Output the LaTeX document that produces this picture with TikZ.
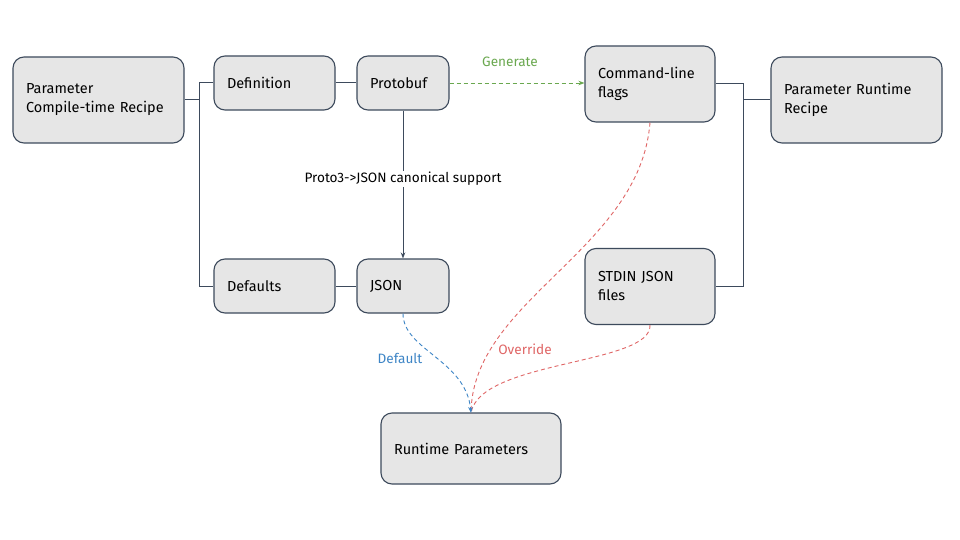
\documentclass[tikz,border=0pt]{standalone}
\usepackage{fontspec}
\setmainfont{Fira Sans}
\usetikzlibrary{arrows.meta}
\definecolor{boxfill}{HTML}{E6E6E6}
\definecolor{boxline}{HTML}{3D4A5C}
\definecolor{gen}{HTML}{6AA84F}
\definecolor{ovr}{HTML}{E06666}
\definecolor{dft}{HTML}{3D85C6}
\tikzset{
  box/.style={draw=boxline, fill=boxfill, line width=1.1pt, rounded corners=11pt,
    align=left, inner xsep=13pt, font=\fontsize{14.5}{19}\selectfont},
  link/.style={draw=boxline, line width=1pt},
  tip/.style={-{Stealth[length=6pt,width=4.5pt]}},
  dsh/.style={dash pattern=on 4pt off 3pt, line width=0.9pt},
  lbl/.style={font=\fontsize{13.6}{15}\selectfont}
}
\begin{document}
\begin{tikzpicture}[x=1pt,y=-1pt]
\useasboundingbox (0,0) rectangle (960,540);
\fill[white] (0,0) rectangle (960,540);
\node[box, minimum width=171pt, minimum height=86pt, text width=145pt] (recipe) at (98.5,100) {Parameter\\Compile-time Recipe};
\node[box, minimum width=121pt, minimum height=54pt, text width=95pt] (def) at (274.5,83) {Definition};
\node[box, minimum width=92pt, minimum height=54pt, text width=66pt] (proto) at (403,83) {Protobuf};
\node[box, minimum width=130pt, minimum height=76pt, text width=104pt] (cmd) at (650,84) {Command-line\\flags};
\node[box, minimum width=171pt, minimum height=86pt, text width=145pt] (rt) at (856.5,100) {Parameter Runtime\\Recipe};
\node[box, minimum width=121pt, minimum height=54pt, text width=95pt] (defaults) at (274.5,286) {Defaults};
\node[box, minimum width=92pt, minimum height=54pt, text width=66pt] (json) at (403,286) {JSON};
\node[box, minimum width=130pt, minimum height=76pt, text width=104pt] (stdin) at (650,286.5) {STDIN JSON\\files};
\node[box, minimum width=180pt, minimum height=71pt, text width=154pt] (params) at (471,448.5) {Runtime Parameters};

\coordinate (lj) at (199.5,100);
\coordinate (rj) at (743,100);
\coordinate (tgt) at (471,413);
\draw[link] (recipe.east) -- (lj);
\draw[link] (def.west) -| (lj) |- (defaults.west);
\draw[link] (def.east) -- (proto.west);
\draw[link] (defaults.east) -- (json.west);
\draw[link] (rt.west) -- (rj);
\draw[link] (cmd.east) -| (rj) |- (stdin.east);
\draw[link, tip] (proto.south) -- node[pos=0.463, fill=white, inner sep=1pt, lbl] (plbl) {Proto3->JSON canonical support} (json.north);
\draw[dsh, gen, tip] (proto.east) -- (cmd.west |- proto.east);
\node[lbl, text=gen] (glbl) at (510,62) {Generate};
\draw[dsh, ovr] (cmd.south) .. controls (640,250) and (472,300) .. (tgt);
\draw[dsh, ovr] (stdin.south) .. controls (652,365) and (480,360) .. (tgt);
\draw[dsh, dft, tip] (json.south) .. controls (403,350) and (466,360) .. (tgt);
\node[lbl, text=dft] (dlbl) at (400,358) {Default};
\node[lbl, text=ovr] (olbl) at (525,349) {Override};
\end{tikzpicture}
\end{document}
